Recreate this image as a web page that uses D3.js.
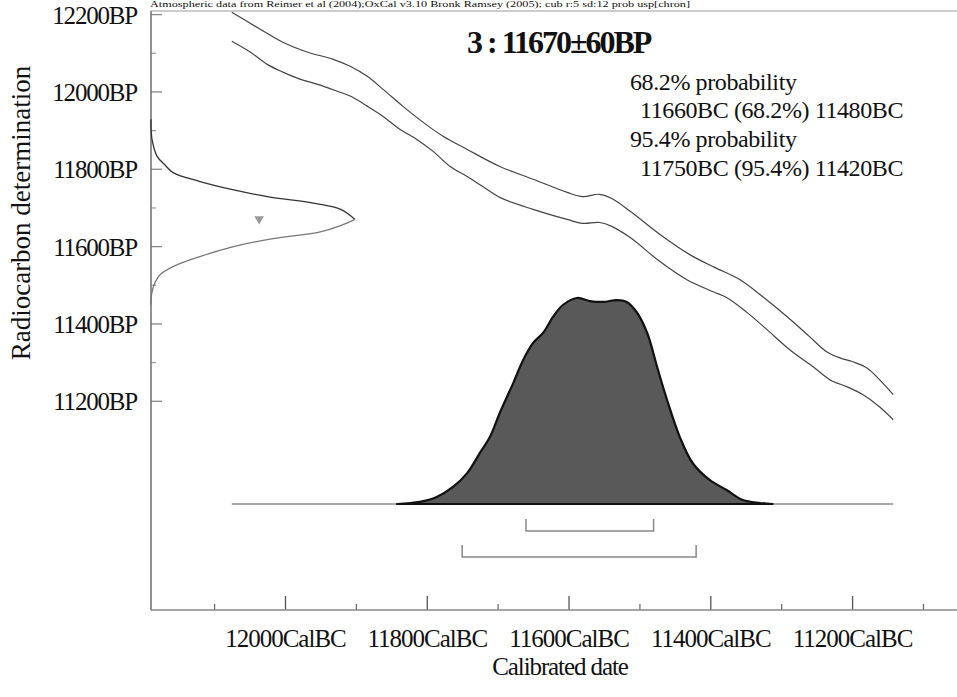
<!DOCTYPE html>
<html><head><meta charset="utf-8">
<script src="https://cdn.jsdelivr.net/npm/d3@7/dist/d3.min.js"></script>
<style>
body{margin:0;background:#fff;}
svg{display:block;font-family:"Liberation Serif","Times New Roman",serif;}
</style></head>
<body>
<svg id="chart" width="957" height="697"></svg>
<script>
// ---------- DATA ----------
const headerText = "Atmospheric data from Reimer et al (2004);OxCal v3.10 Bronk Ramsey (2005); cub r:5 sd:12 prob usp[chron]";
const titleText = "3 : 11670±60BP";
const probLines = ["68.2% probability", "  11660BC (68.2%) 11480BC", "95.4% probability", "  11750BC (95.4%) 11420BC"];
const xMajorTicks = [12000, 11800, 11600, 11400, 11200];
const xMinorTicks = [12100, 11900, 11700, 11500, 11300, 11100];
const yMajorTicks = [12200, 12000, 11800, 11600, 11400, 11200];
const yMinorTicks = [12100, 11900, 11700, 11500, 11300];
const xTickLabels = ["12000CalBC", "11800CalBC", "11600CalBC", "11400CalBC", "11200CalBC"];
const yTickLabels = ["12200BP", "12000BP", "11800BP", "11600BP", "11400BP", "11200BP"];

// calibration curve envelope: [cal BC, BP]
const curveUpper = [[12075,12205],[12035,12161],[12003,12127],[11969,12102],[11932,12083],[11908,12065],[11884,12039],[11862,12006],[11834,11962],[11805,11920],[11777,11884],[11743,11850],[11697,11806],[11650,11773],[11602,11739],[11580,11728],[11556,11734],[11539,11723],[11513,11690],[11471,11630],[11429,11578],[11394,11545],[11358,11513],[11326,11469],[11292,11418],[11260,11366],[11236,11327],[11217,11311],[11199,11301],[11179,11285],[11161,11254],[11142,11216]];
const curveLower = [[12075,12130],[12049,12102],[12025,12070],[12003,12050],[11979,12032],[11955,12019],[11927,12001],[11908,11988],[11884,11962],[11862,11936],[11838,11902],[11814,11876],[11791,11845],[11767,11806],[11743,11780],[11721,11754],[11697,11726],[11650,11695],[11602,11669],[11580,11659],[11556,11661],[11539,11651],[11513,11622],[11471,11560],[11433,11513],[11396,11482],[11377,11467],[11348,11428],[11320,11384],[11288,11332],[11255,11288],[11231,11254],[11207,11236],[11185,11216],[11161,11184],[11142,11151]];

// radiocarbon likelihood: [BP, relative density]
const c14Upper = [[11928,0],[11910,0],[11876,0.005],[11832,0.03],[11809,0.07],[11790,0.108],[11767,0.24],[11746,0.40],[11728,0.57],[11710,0.81],[11695,0.93],[11669,1.0]];
const c14Lower = [[11669,1.0],[11653,0.93],[11637,0.83],[11617,0.57],[11598,0.40],[11573,0.24],[11547,0.108],[11526,0.044],[11506,0.02],[11482,0.005],[11462,0],[11449,0]];
const c14Marker = [11670, 0.53];

// calibrated distribution: [cal BC, relative probability]
const calDist = [[11842,0],[11810,0.01],[11786,0.034],[11763,0.083],[11743,0.15],[11725,0.248],[11711,0.325],[11697,0.442],[11678,0.587],[11664,0.699],[11650,0.782],[11636,0.83],[11622,0.908],[11608,0.966],[11588,1.0],[11570,0.985],[11551,0.981],[11532,0.99],[11518,0.981],[11504,0.932],[11489,0.83],[11475,0.665],[11461,0.505],[11443,0.325],[11425,0.199],[11401,0.117],[11377,0.068],[11354,0.019],[11330,0.005],[11312,0]];
const calBaseRange = [12075, 11142];
const range68 = [11660, 11480];
const range95 = [11750, 11420];

// ---------- SCALES ----------
const svg = d3.select("#chart");
const pLeft = 151, pRight = 957, pTop = 11, pBottom = 610;
const x = d3.scaleLinear().domain([12189, 11052]).range([pLeft, pRight]);
const y = d3.scaleLinear().domain([10659, 12208]).range([pBottom, pTop]);
const dScale = d3.scaleLinear().domain([0, 1]).range([pLeft, pLeft + 204]);
const pScale = d3.scaleLinear().domain([0, 1]).range([504, 298]);

// header line (small, at the very top)
svg.append("text").attr("x", 150).attr("y", 7).attr("font-size", 8)
  .attr("textLength", 540).attr("lengthAdjust", "spacingAndGlyphs")
  .attr("fill", "#111").text(headerText);

// frame line
svg.append("line").attr("x1", pLeft).attr("x2", pRight).attr("y1", pTop).attr("y2", pTop)
  .attr("stroke", "#bbb").attr("stroke-width", 1.5);

// ---------- AXES ----------
const gx = svg.append("g").attr("transform", `translate(0,${pBottom})`)
  .call(d3.axisBottom(x).tickValues(xMajorTicks).tickSizeInner(-14).tickSizeOuter(0).tickPadding(20)
    .tickFormat((d, i) => xTickLabels[i]));
gx.select(".domain").remove();
gx.selectAll(".tick line").attr("stroke", "#555").attr("stroke-width", 1.3);
gx.selectAll(".tick text").attr("font-family", "Liberation Serif").attr("font-size", 25)
  .attr("letter-spacing", -1).attr("fill", "#111").attr("dy", "0.68em");
const gxm = svg.append("g").attr("transform", `translate(0,${pBottom})`)
  .call(d3.axisBottom(x).tickValues(xMinorTicks).tickSizeInner(-6).tickSizeOuter(0).tickFormat(""));
gxm.select(".domain").remove();
gxm.selectAll(".tick line").attr("stroke", "#666").attr("stroke-width", 1.2);

const gy = svg.append("g").attr("transform", `translate(${pLeft},0)`)
  .call(d3.axisLeft(y).tickValues(yMajorTicks).tickSizeInner(-11).tickSizeOuter(0).tickPadding(14)
    .tickFormat((d, i) => yTickLabels[i]));
gy.select(".domain").remove();
gy.selectAll(".tick line").attr("stroke", "#888").attr("stroke-width", 1.3);
gy.selectAll(".tick text").attr("font-family", "Liberation Serif").attr("font-size", 25)
  .attr("letter-spacing", -1.2).attr("fill", "#111").attr("dy", "0.36em");
const gym = svg.append("g").attr("transform", `translate(${pLeft},0)`)
  .call(d3.axisLeft(y).tickValues(yMinorTicks).tickSizeInner(-5).tickSizeOuter(0).tickFormat(""));
gym.select(".domain").remove();
gym.selectAll(".tick line").attr("stroke", "#999").attr("stroke-width", 1.2);

// spines
svg.append("line").attr("x1", pLeft).attr("x2", pLeft).attr("y1", pTop).attr("y2", pBottom)
  .attr("stroke", "#777").attr("stroke-width", 1.6);
svg.append("line").attr("x1", pLeft).attr("x2", pRight).attr("y1", pBottom).attr("y2", pBottom)
  .attr("stroke", "#888").attr("stroke-width", 1.6);

// axis titles
svg.append("text").attr("transform", "translate(30,213) rotate(-90)").attr("text-anchor", "middle")
  .attr("font-size", 27).attr("fill", "#111").text("Radiocarbon determination");
svg.append("text").attr("x", 560).attr("y", 675).attr("text-anchor", "middle")
  .attr("font-size", 25).attr("letter-spacing", -1.1).attr("fill", "#111").text("Calibrated date");

// ---------- CALIBRATION CURVE ----------
const calLine = d3.line().x(d => x(d[0])).y(d => y(d[1])).curve(d3.curveCatmullRom);
[curveUpper, curveLower].forEach(c => {
  svg.append("path").datum(c).attr("d", calLine)
    .attr("fill", "none").attr("stroke", "#444").attr("stroke-width", 1.2);
});

// ---------- RADIOCARBON DISTRIBUTION ----------
const c14Line = d3.line().x(d => dScale(d[1])).y(d => y(d[0])).curve(d3.curveCatmullRom);
svg.append("path").datum(c14Upper).attr("d", c14Line)
  .attr("fill", "none").attr("stroke", "#333").attr("stroke-width", 1.3);
svg.append("path").datum(c14Lower).attr("d", c14Line)
  .attr("fill", "none").attr("stroke", "#777").attr("stroke-width", 1.3);
svg.append("path").attr("d", d3.symbol(d3.symbolTriangle, 40)())
  .attr("transform", `translate(${dScale(c14Marker[1])},${y(c14Marker[0])}) rotate(180)`)
  .attr("fill", "#999");

// ---------- CALIBRATED DISTRIBUTION ----------
svg.append("line").attr("x1", x(calBaseRange[0])).attr("x2", x(calBaseRange[1]))
  .attr("y1", pScale(0)).attr("y2", pScale(0)).attr("stroke", "#aaa").attr("stroke-width", 2);
svg.append("path").datum(calDist)
  .attr("d", d3.area().x(d => x(d[0])).y0(pScale(0)).y1(d => pScale(d[1])).curve(d3.curveCatmullRom))
  .attr("fill", "#595959").attr("stroke", "#111").attr("stroke-width", 2.2).attr("stroke-linejoin", "round");

// range brackets
[[range68, 531], [range95, 557]].forEach(([r, yy]) => {
  svg.append("path")
    .attr("d", `M${x(r[0])},${yy - 12}V${yy}H${x(r[1])}V${yy - 12}`)
    .attr("fill", "none").attr("stroke", "#888").attr("stroke-width", 1.5);
});

// ---------- TEXT ----------
svg.append("text").attr("x", 467).attr("y", 53).attr("font-size", 32).attr("font-weight", "bold")
  .attr("letter-spacing", -2).attr("fill", "#111").text(titleText);
const pl = [90, 118, 147, 176];
probLines.forEach((t, i) => {
  svg.append("text").attr("x", t.startsWith("  ") ? 640 : 630).attr("y", pl[i])
    .attr("font-size", 24).attr("letter-spacing", -0.4).attr("fill", "#111").text(t.trim());
});
</script>
</body></html>
